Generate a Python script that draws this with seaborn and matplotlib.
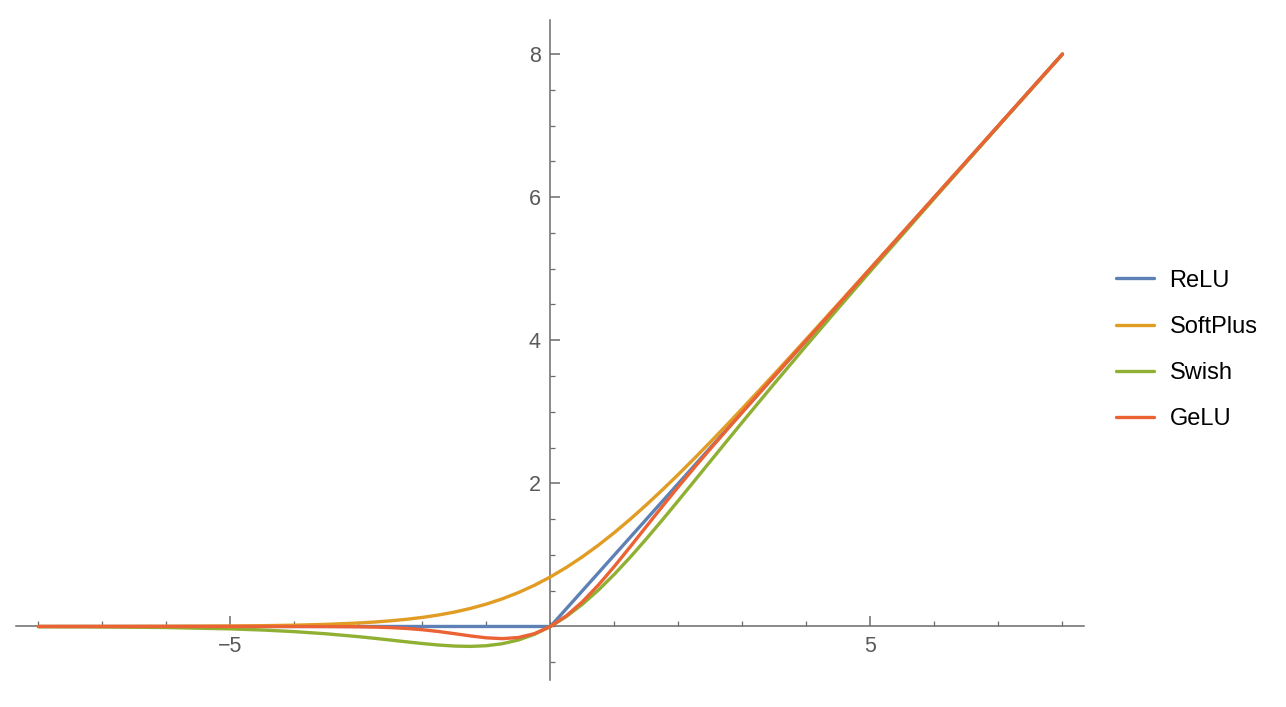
import matplotlib
matplotlib.use('Agg')
import matplotlib.pyplot as plt
from matplotlib.ticker import MultipleLocator
import seaborn as sns
import pandas as pd

# activation curves, values
x_vals = [-8, -7, -6, -5, -4.5, -4, -3.5, -3, -2.75, -2.5, -2.25, -2, -1.75, -1.5, -1.25,
          -1, -0.75, -0.5, -0.25, 0, 0.25, 0.5, 0.75, 1, 1.25, 1.5, 1.75, 2, 2.25, 2.5,
          2.75, 3, 3.5, 4, 4.5, 5, 6, 7, 8]
relu_x = [-8, 0, 8]
relu_y = [0, 0, 8]
softplus_y = [0.0003, 0.0009, 0.0025, 0.0067, 0.0110, 0.0182, 0.0298, 0.0486, 0.0620, 0.0789,
              0.1002, 0.1269, 0.1602, 0.2014, 0.2519, 0.3133, 0.3869, 0.4741, 0.5759, 0.6931,
              0.8259, 0.9741, 1.1369, 1.3133, 1.5019, 1.7014, 1.9102, 2.1269, 2.3502, 2.5789,
              2.8120, 3.0486, 3.5298, 4.0182, 4.5110, 5.0067, 6.0025, 7.0009, 8.0003]
swish_y = [-0.0027, -0.0064, -0.0148, -0.0335, -0.0494, -0.0719, -0.1026, -0.1423, -0.1652,
           -0.1896, -0.2145, -0.2384, -0.2591, -0.2736, -0.2784, -0.2689, -0.2406, -0.1888,
           -0.1095, 0, 0.1405, 0.3112, 0.5094, 0.7311, 0.9716, 1.2264, 1.4909, 1.7616, 2.0355,
           2.3104, 2.5848, 2.8577, 3.3974, 3.9281, 4.4506, 4.9665, 5.9852, 6.9936, 7.9973]
gelu_y = [0, 0, 0, 0, 0, -0.0001, -0.0008, -0.0040, -0.0082, -0.0155, -0.0275, -0.0455,
          -0.0701, -0.1002, -0.1321, -0.1587, -0.1700, -0.1543, -0.1003, 0, 0.1497, 0.3457,
          0.5800, 0.8413, 1.1179, 1.3998, 1.6799, 1.9545, 2.2225, 2.4845, 2.7418, 2.9960,
          3.4992, 3.9999, 4.5, 5.0, 6.0, 7.0, 8.0]

names = ['ReLU', 'SoftPlus', 'Swish', 'GeLU']
colors = {'ReLU': '#5E81B5', 'SoftPlus': '#E19C24', 'Swish': '#8FB032', 'GeLU': '#EB6235'}

sns.set_style('white')
plt.rcParams['font.family'] = ['Liberation Sans', 'DejaVu Sans']

df = pd.concat([
    pd.DataFrame({'x': relu_x, 'y': relu_y, 'f': 'ReLU'}),
    pd.DataFrame({'x': x_vals, 'y': softplus_y, 'f': 'SoftPlus'}),
    pd.DataFrame({'x': x_vals, 'y': swish_y, 'f': 'Swish'}),
    pd.DataFrame({'x': x_vals, 'y': gelu_y, 'f': 'GeLU'}),
], ignore_index=True)

fig = plt.figure(figsize=(12.86, 7.07), dpi=100)
ax = fig.add_axes([16 / 1286, 27 / 707, 1067.6 / 1286, 660 / 707])

sns.lineplot(data=df, x='x', y='y', hue='f', hue_order=names, palette=colors,
             sort=False, estimator=None, lw=2.4, ax=ax)

ax.set_xlim(-8.35, 8.33)
ax.set_ylim(-0.748, 8.476)
ax.set_xlabel('')
ax.set_ylabel('')

# Mathematica-like axes through the origin, drawn under the curves
for s in ['top', 'right']:
    ax.spines[s].set_visible(False)
for s in ['left', 'bottom']:
    ax.spines[s].set_position(('data', 0))
    ax.spines[s].set_color('#6b6b6b')
    ax.spines[s].set_linewidth(1.1)
    ax.spines[s].set_zorder(1)

ax.set_xticks([-5, 5])
ax.set_yticks([2, 4, 6, 8])
ax.xaxis.set_minor_locator(MultipleLocator(1))
ax.yaxis.set_minor_locator(MultipleLocator(0.5))
ax.tick_params(which='both', bottom=True, left=True, top=False, right=False)
ax.tick_params(which='major', direction='in', length=7, width=1.1, color='#6b6b6b',
               labelsize=15.5, labelcolor='#5a5a5a')
ax.tick_params(which='minor', direction='in', length=3.5, width=0.9, color='#6b6b6b')
ax.tick_params(axis='x', which='major', pad=6.5)
ax.tick_params(axis='y', which='major', pad=7)

handles, labels = ax.get_legend_handles_labels()
leg = ax.legend(handles, labels, loc='center left', bbox_to_anchor=(1116 / 1286, 1 - 350 / 707),
                bbox_transform=fig.transFigure, frameon=False, fontsize=17, borderpad=0,
                borderaxespad=0, handlelength=1.61, handletextpad=0.66, labelspacing=1.03)
for t in leg.get_texts():
    t.set_color('black')

fig.savefig('out.png', dpi=100)
